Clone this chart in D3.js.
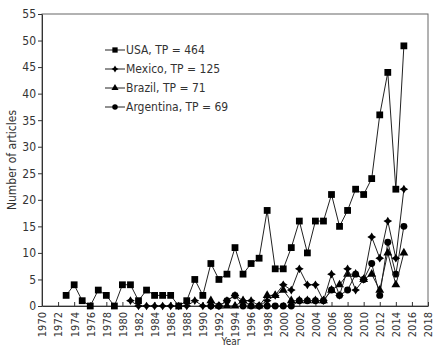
<!DOCTYPE html>
<html>
<head>
<meta charset="utf-8">
<script src="https://cdn.jsdelivr.net/npm/d3@7"></script>
<style>
  body { margin: 0; padding: 0; background: #fff; }
  text { font-family: "Liberation Sans Narrow", "DejaVu Sans Condensed", sans-serif; fill: #333; }
</style>
</head>
<body>
<div id="main"></div>
<script>
// data
const usaYears = d3.range(1973, 2016);
const usaValues = [2, 4, 1, 0, 3, 2, 0, 4, 4, 1, 3, 2, 2, 2, 0, 1, 5, 2, 8, 5, 6, 11, 6, 8, 9, 18, 7, 7, 11, 16, 10, 16, 16, 21, 15, 18, 22, 21, 24, 36, 44, 22, 49];
const mexicoYears = d3.range(1981, 2016);
const mexicoValues = [1, 0, 0, 0, 0, 0, 0, 0, 1, 0, 0, 0, 1, 2, 1, 1, 0, 1, 2, 4, 3, 7, 4, 4, 1, 6, 2, 7, 3, 5, 13, 9, 16, 9, 22];
const brazilYears = d3.range(1991, 2016);
const brazilValues = [1, 0, 0, 0, 1, 0, 0, 2, 2, 3, 1, 1, 1, 1, 1, 3, 4, 6, 6, 5, 6, 3, 10, 4, 10];
const argentinaYears = d3.range(1991, 2016);
const argentinaValues = [0, 0, 1, 2, 0, 0, 0, 0, 0, 0, 0, 1, 1, 1, 1, 3, 2, 3, 6, 5, 8, 2, 12, 6, 15];
const seriesNames = ['USA, TP = 464', 'Mexico, TP = 125', 'Brazil, TP = 71', 'Argentina, TP = 69'];
const xTicks = d3.range(1970, 2019, 2);
const yTicks = d3.range(0, 56, 5);

const WIDTH = 445, HEIGHT = 345;
const LEFT = 42, RIGHT = 428, TOP = 14, BOTTOM = 306;

// four point star for Mexico
const symbolStar4 = {
    draw(ctx, size) {
        const r = Math.sqrt(size) * 0.75;
        const q = r * 0.38;
        ctx.moveTo(0, -r);
        ctx.lineTo(q, -q);
        ctx.lineTo(r, 0);
        ctx.lineTo(q, q);
        ctx.lineTo(0, r);
        ctx.lineTo(-q, q);
        ctx.lineTo(-r, 0);
        ctx.lineTo(-q, -q);
        ctx.closePath();
    }
};

const series = [
    { name: seriesNames[0], years: usaYears, values: usaValues, symbol: d3.symbolSquare, size: 46, legendSize: 28 },
    { name: seriesNames[1], years: mexicoYears, values: mexicoValues, symbol: symbolStar4, size: 34, legendSize: 22 },
    { name: seriesNames[2], years: brazilYears, values: brazilValues, symbol: d3.symbolTriangle, size: 34, legendSize: 22 },
    { name: seriesNames[3], years: argentinaYears, values: argentinaValues, symbol: d3.symbolCircle, size: 38, legendSize: 24 }
];

const scaleX = d3.scaleLinear().domain([1970, 2018]).range([LEFT, RIGHT]);
const scaleY = d3.scaleLinear().domain([0, 55]).range([BOTTOM, TOP]);

const svg = d3.select('#main').append('svg')
    .attr('width', WIDTH)
    .attr('height', HEIGHT);

// frame
svg.append('rect')
    .attr('x', LEFT).attr('y', TOP)
    .attr('width', RIGHT - LEFT).attr('height', BOTTOM - TOP)
    .attr('fill', 'none').attr('stroke', '#666').attr('stroke-width', 1);

// ticks point inward
const axisX = d3.axisBottom(scaleX).tickValues(xTicks).tickFormat(d3.format('d')).tickSize(-4).tickSizeOuter(0);
const gx = svg.append('g')
    .attr('transform', `translate(0, ${BOTTOM})`)
    .call(axisX);
gx.select('.domain').attr('stroke', '#333');
gx.selectAll('.tick line').attr('stroke', '#333');
gx.selectAll('.tick text')
    .attr('font-size', 11)
    .attr('transform', 'rotate(-90)')
    .attr('text-anchor', 'end')
    .attr('x', -6)
    .attr('y', 0)
    .attr('dy', '0.35em');

const axisY = d3.axisLeft(scaleY).tickValues(yTicks).tickSize(4).tickSizeOuter(0);
const gy = svg.append('g')
    .attr('transform', `translate(${LEFT}, 0)`)
    .call(axisY);
gy.select('.domain').attr('stroke', '#333');
gy.selectAll('.tick line').attr('stroke', '#333');
gy.selectAll('.tick text').attr('font-size', 12).attr('x', -6);

svg.append('text')
    .text('Number of articles')
    .attr('font-size', 12)
    .attr('text-anchor', 'middle')
    .attr('transform', `translate(16, ${scaleY(27.5)}) rotate(-90)`);

svg.append('text')
    .text('Year')
    .attr('font-size', 10)
    .attr('text-anchor', 'middle')
    .attr('x', 231)
    .attr('y', 344.5);

const line = d3.line().x((d) => scaleX(d[0])).y((d) => scaleY(d[1]));

// draw later series first so USA sits on top
series.slice().reverse().forEach((s) => {
    const pts = s.years.map((y, i) => [y, s.values[i]]);
    svg.append('path')
        .attr('d', line(pts))
        .attr('fill', 'none')
        .attr('stroke', '#222')
        .attr('stroke-width', 1);
    svg.append('g').selectAll('path').data(pts).enter().append('path')
        .attr('d', d3.symbol().type(s.symbol).size(s.size))
        .attr('transform', (d) => `translate(${scaleX(d[0])}, ${scaleY(d[1])})`)
        .attr('fill', '#000');
});

// legend
const legend = svg.append('g');
series.forEach((s, i) => {
    const y = 50 + i * 19;
    legend.append('line')
        .attr('x1', 105).attr('x2', 125)
        .attr('y1', y).attr('y2', y)
        .attr('stroke', '#222').attr('stroke-width', 1);
    legend.append('path')
        .attr('d', d3.symbol().type(s.symbol).size(s.legendSize))
        .attr('transform', `translate(115, ${y})`)
        .attr('fill', '#000');
    legend.append('text')
        .text(s.name)
        .attr('font-size', 12)
        .attr('x', 126)
        .attr('y', y)
        .attr('dy', '0.35em');
});
</script>
</body>
</html>
